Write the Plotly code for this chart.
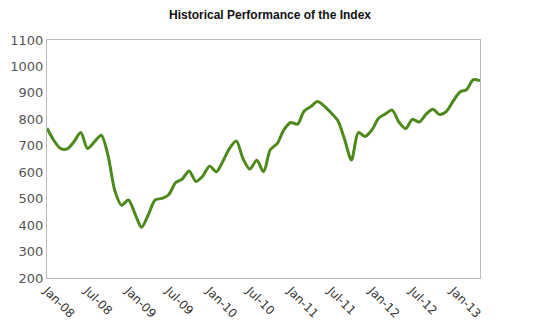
import plotly.graph_objects as go
import pandas as pd

dates = pd.date_range("2008-01-01", periods=65, freq="MS")
values = [766, 720, 690, 688, 715, 750, 690, 715, 740, 665,
          530, 475, 495, 440, 392, 440, 495, 501, 515, 560,
          575, 605, 565, 585, 623, 602, 640, 690, 718, 650,
          612, 645, 602, 685, 708, 760, 788, 782, 830, 848,
          867, 850, 825, 795, 722, 646, 750, 735, 760, 805,
          820, 835, 790, 765, 800, 790, 820, 838, 818, 830,
          870, 904, 912, 950, 946]
tick_dates = pd.date_range("2008-01-01", "2013-01-01", freq="6MS")
tick_labels = [d.strftime("%b-%y") for d in tick_dates]

fig = go.Figure(go.Scatter(
    x=dates, y=values, mode="lines",
    line=dict(color="#4c8a1c", width=3, shape="spline", smoothing=0.8),
    hoverinfo="skip"))

fig.update_layout(
    width=540, height=328,
    margin=dict(l=47, r=60, t=40, b=50, autoexpand=False),
    paper_bgcolor="white", plot_bgcolor="white",
    showlegend=False,
    title=dict(text="<b>Historical Performance of the Index</b>",
               x=0.5, xanchor="center", y=0.955, yanchor="middle",
               font=dict(family="Liberation Sans, Arial", size=12, color="#111")),
    xaxis=dict(range=[dates[0], dates[-1]], tickvals=tick_dates, ticktext=tick_labels,
               tickangle=45, showgrid=False, zeroline=False, automargin=False,
               showline=True, linecolor="#bbbbbb", linewidth=1, mirror=True,
               ticks="", tickfont=dict(family="DejaVu Sans", size=12, color="#333")),
    yaxis=dict(range=[200, 1100], dtick=100, showgrid=False, zeroline=False, automargin=False,
               showline=True, linecolor="#bbbbbb", linewidth=1, mirror=True,
               ticks="", tickfont=dict(family="DejaVu Sans", size=13, color="#555")),
)

fig.write_html("out.html")
